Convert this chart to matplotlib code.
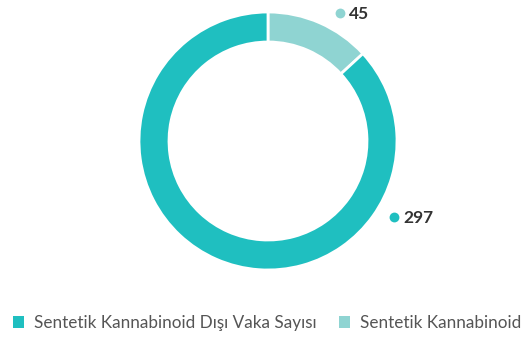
import numpy as np
import matplotlib
matplotlib.use("Agg")
import matplotlib.pyplot as plt

categories = ["Sentetik Kannabinoid Dışı Vaka Sayısı", "Sentetik Kannabinoid"]
values = [297, 45]
colors = ["#1fbfc0", "#8fd4d2"]

# label anchor angles (degrees, from +x axis) and radius factor
label_angles = [-31, 60.6]
label_radius = 1.14

fig = plt.figure(figsize=(5.26, 3.42), dpi=100)
ax = fig.add_axes([0, 0, 1, 1])

cx, cy, r = 268, 201, 129
# draw the small slice first so it starts at 12 o'clock going clockwise
order = [1, 0]
wedges, _ = ax.pie([values[i] for i in order], colors=[colors[i] for i in order],
                   startangle=90, counterclock=False, center=(cx, cy), radius=r,
                   wedgeprops=dict(width=30, edgecolor="white", linewidth=2))
ax.set_xlim(0, 526)
ax.set_ylim(0, 342)
ax.set_aspect("equal")
ax.axis("off")

for v, c, a in zip(values, colors, label_angles):
    t = np.deg2rad(a)
    x = cx + r * label_radius * np.cos(t)
    y = cy + r * label_radius * np.sin(t)
    ax.scatter([x], [y], s=50, color=c, zorder=3, linewidths=0)
    ax.text(x + 9, y - 1, str(v), ha="left", va="center", fontsize=12.5,
            fontweight="bold", family="Lato", color="#333333")

handles = [wedges[1], wedges[0]]
leg = ax.legend(handles, categories, loc="center", bbox_to_anchor=(0.508, 0.055),
                ncol=2, frameon=False, handlelength=0.64, handleheight=0.64,
                columnspacing=1.35, handletextpad=0.55, borderpad=0,
                prop=dict(family="Lato", size=12.35))
for txt in leg.get_texts():
    txt.set_color("#555555")
for h in leg.legend_handles:
    h.set_edgecolor("none")

fig.savefig("out.png", dpi=100)
